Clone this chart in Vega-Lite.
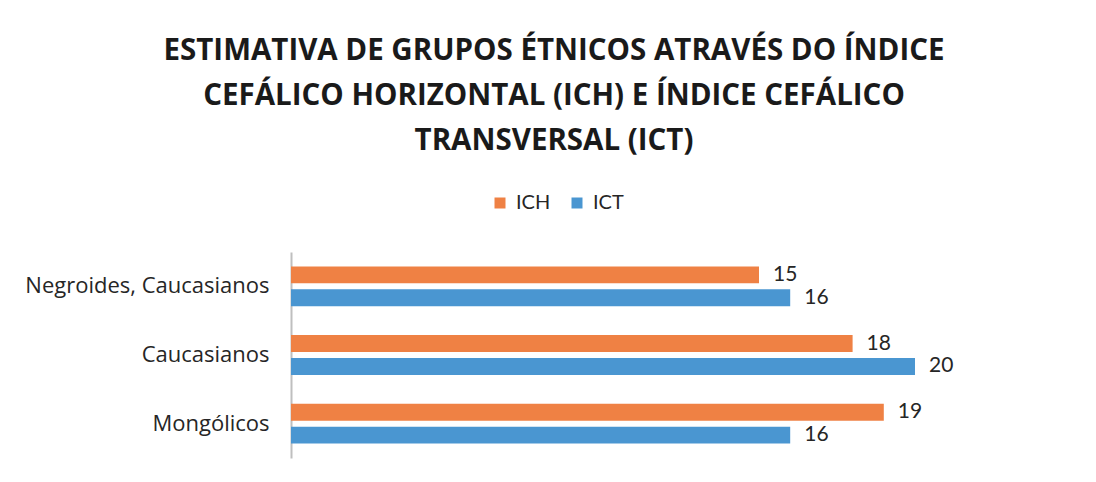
{
  "$schema": "https://vega.github.io/schema/vega-lite/v6.json",
  "autosize": {"type": "none"},
  "width": 624,
  "height": 206,
  "padding": {"left": 291, "top": 252, "right": 181, "bottom": 24},
  "background": "white",
  "title": {
    "text": ["ESTIMATIVA DE GRUPOS ÉTNICOS ATRAVÉS DO ÍNDICE", "CEFÁLICO HORIZONTAL (ICH) E ÍNDICE CEFÁLICO", "TRANSVERSAL (ICT)"],
    "font": "Open Sans",
    "fontSize": 29.5,
    "fontWeight": "bold",
    "color": "#1a1a1a",
    "lineHeight": 45,
    "anchor": "middle",
    "frame": "group",
    "dx": -49,
    "offset": 37
  },
  "data": {
    "values": [
      {"grupo": "Negroides, Caucasianos", "indice": "ICH", "valor": 15},
      {"grupo": "Negroides, Caucasianos", "indice": "ICT", "valor": 16},
      {"grupo": "Caucasianos", "indice": "ICH", "valor": 18},
      {"grupo": "Caucasianos", "indice": "ICT", "valor": 20},
      {"grupo": "Mongólicos", "indice": "ICH", "valor": 19},
      {"grupo": "Mongólicos", "indice": "ICT", "valor": 16}
    ]
  },
  "encoding": {
    "y": {
      "field": "grupo",
      "type": "nominal",
      "sort": ["Negroides, Caucasianos", "Caucasianos", "Mongólicos"],
      "scale": {"paddingInner": 0.42, "paddingOuter": 0.21},
      "axis": {
        "title": null,
        "ticks": false,
        "domainColor": "#BFBFBF",
        "domainWidth": 2,
        "labelFont": "Open Sans",
        "labelFontSize": 22,
        "labelColor": "#262626",
        "labelPadding": 22,
        "labelLimit": 0
      }
    },
    "yOffset": {
      "field": "indice",
      "type": "nominal",
      "sort": ["ICH", "ICT"],
      "scale": {"paddingInner": 0.26, "paddingOuter": 0}
    },
    "x": {
      "field": "valor",
      "type": "quantitative",
      "scale": {"domain": [0, 20], "nice": false},
      "axis": null
    }
  },
  "layer": [
    {
      "mark": {"type": "bar"},
      "encoding": {
        "color": {
          "field": "indice",
          "type": "nominal",
          "sort": ["ICH", "ICT"],
          "scale": {"domain": ["ICH", "ICT"], "range": ["#EF8144", "#4A96D1"]},
          "legend": {
            "title": null,
            "orient": "none",
            "direction": "horizontal",
            "legendX": 199,
            "legendY": -59,
            "symbolType": "square",
            "symbolSize": 121,
            "symbolStrokeWidth": 0,
            "labelFont": "Lato",
            "labelFontSize": 20,
            "labelColor": "#262626",
            "columnPadding": 16,
            "labelOffset": 6
          }
        }
      }
    },
    {
      "mark": {"type": "text", "align": "left", "baseline": "middle", "dx": 14, "font": "Lato", "fontSize": 21, "color": "#262626"},
      "encoding": {"text": {"field": "valor", "type": "quantitative"}}
    }
  ],
  "config": {"view": {"stroke": null}}
}
